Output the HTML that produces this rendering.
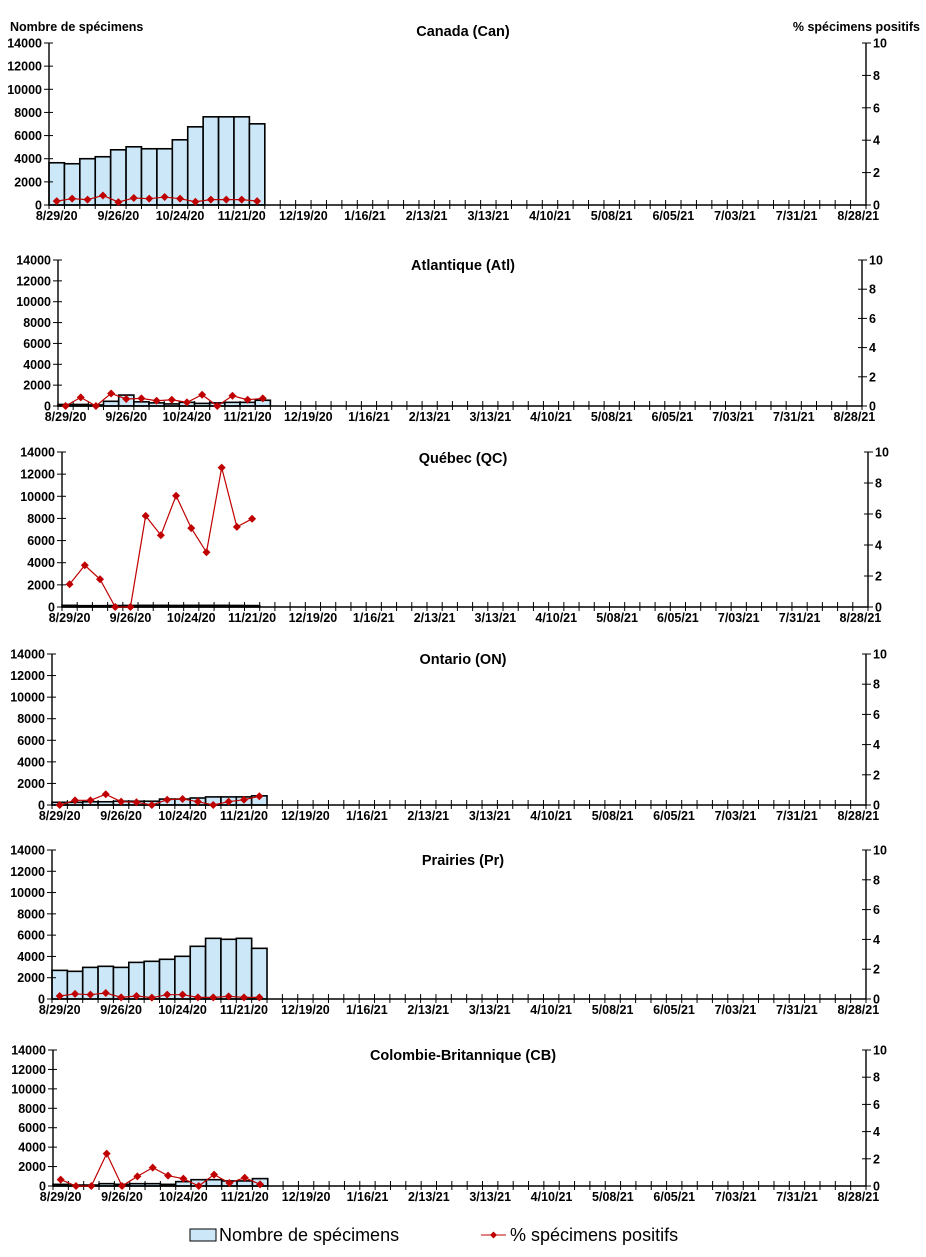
<!DOCTYPE html>
<html><head><meta charset="utf-8">
<style>
html,body{margin:0;padding:0;background:#fff;}
svg{display:block;font-family:"Liberation Sans",Arial,sans-serif;}
</style></head>
<body>
<svg id="chart" width="926" height="1257" viewBox="0 0 926 1257" xmlns="http://www.w3.org/2000/svg">
<text x="10" y="31" font-size="12.5" font-weight="bold">Nombre de spécimens</text>
<text x="920" y="31" font-size="12.5" font-weight="bold" text-anchor="end">% spécimens positifs</text>
<g>
<rect x="190" y="1229" width="26" height="12" fill="#cce8f8" stroke="#000" stroke-width="1"/>
<text x="219" y="1241" font-size="18">Nombre de spécimens</text>
<line x1="481" y1="1235" x2="506" y2="1235" stroke="#c00000" stroke-width="1"/>
<path d="M493.5 1231.5 L497 1235 L493.5 1238.5 L490 1235Z" fill="#c00000"/>
<text x="510" y="1241" font-size="18">% spécimens positifs</text>
</g>
</svg>
<script>
const weekLabels = ["8/29/20","9/26/20","10/24/20","11/21/20","12/19/20","1/16/21","2/13/21","3/13/21","4/10/21","5/08/21","6/05/21","7/03/21","7/31/21","8/28/21"];
const leftTicks = [0,2000,4000,6000,8000,10000,12000,14000];
const rightTicks = [0,2,4,6,8,10];
const regionNames = ["Canada (Can)","Atlantique (Atl)","Québec (QC)","Ontario (ON)","Prairies (Pr)","Colombie-Britannique (CB)"];
const canCounts = [3650,3565,4000,4170,4770,5030,4860,4860,5635,6756,7620,7620,7620,7015];
const canPct = [0.24,0.39,0.33,0.59,0.18,0.43,0.39,0.49,0.39,0.2,0.33,0.33,0.33,0.24];
const atlCounts = [150,150,100,450,1050,400,300,200,350,250,300,350,350,550];
const atlPct = [0,0.59,0,0.86,0.48,0.52,0.36,0.43,0.25,0.77,0,0.7,0.43,0.52];
const qcCounts = [150,120,120,130,140,150,150,140,150,150,150,140,130];
const qcPct = [1.47,2.69,1.79,0,0,5.88,4.63,7.18,5.09,3.53,8.99,5.17,5.69];
const onCounts = [250,250,300,300,350,350,350,550,550,650,750,750,750,850];
const onPct = [0,0.31,0.31,0.71,0.22,0.18,0,0.35,0.40,0.22,0,0.22,0.35,0.58];
const prCounts = [2690,2600,2970,3070,2970,3440,3540,3730,4010,4950,5700,5610,5700,4760];
const prPct = [0.2,0.34,0.29,0.4,0.11,0.2,0.09,0.29,0.29,0.11,0.11,0.18,0.11,0.11];
const cbCounts = [170,100,100,240,170,240,240,170,450,650,650,520,520,760];
const cbPct = [0.47,0,0,2.38,0,0.71,1.35,0.76,0.54,0,0.84,0.22,0.61,0.12];

const NS="http://www.w3.org/2000/svg";
const svg=document.getElementById('chart');
function mk(tag,attrs,parent){const e=document.createElementNS(NS,tag);for(const k in attrs)e.setAttribute(k,attrs[k]);(parent||svg).appendChild(e);return e;}
const layouts=[
 {l:49,r:866,t:43,b:205,ty:36},
 {l:58,r:862,t:260,b:406,ty:270},
 {l:62,r:868,t:452,b:607,ty:463},
 {l:52,r:866,t:654,b:805,ty:664},
 {l:52,r:866,t:850,b:999,ty:865},
 {l:53,r:866,t:1050,b:1186,ty:1060}
];
const countsAll=[canCounts,atlCounts,qcCounts,onCounts,prCounts,cbCounts];
const pctAll=[canPct,atlPct,qcPct,onPct,prPct,cbPct];
const NCAT=53;
layouts.forEach((L,pi)=>{
 const g=mk('g',{});
 
 
 const bw=(L.r-L.l)/NCAT;
 const xc=i=>L.l+(i+0.5)*bw;
 const yL=v=>L.b-(v/14000)*(L.b-L.t);
 const yR=v=>L.b-(v/10)*(L.b-L.t);
 const title=mk('text',{x:463,y:L.ty,'font-size':14.5,'font-weight':'bold','text-anchor':'middle'},g);
 title.textContent=regionNames[pi];
 
 
 countsAll[pi].forEach((v,i)=>{
  const r=mk('rect',{x:L.l+i*bw,y:yL(v),width:bw,height:L.b-yL(v),fill:'#cce8f8',stroke:'#000','stroke-width':1.6},g);
  
  
 });
 const ax=mk('path',{d:`M${L.l} ${L.t}V${L.b}H${L.r}V${L.t}`,fill:'none',stroke:'#000','stroke-width':1.4},g);
 
 
 leftTicks.forEach(v=>{
  mk('line',{x1:L.l-5,x2:L.l+4,y1:yL(v),y2:yL(v),stroke:'#000'},g);
  const t=mk('text',{x:L.l-7,y:yL(v)+4.5,'font-size':12.5,'font-weight':'bold','text-anchor':'end'},g);
  t.textContent=v;
  
  
 });
 rightTicks.forEach(v=>{
  mk('line',{x1:L.r-4,x2:L.r+5,y1:yR(v),y2:yR(v),stroke:'#000'},g);
  const t=mk('text',{x:L.r+7,y:yR(v)+4.5,'font-size':12.5,'font-weight':'bold'},g);
  t.textContent=v;
  
  
 });
 for(let i=0;i<=NCAT;i++){
  const x=L.l+i*bw;
  mk('line',{x1:x,x2:x,y1:L.b-5,y2:L.b+4,stroke:'#000'},g);
 }
 weekLabels.forEach((s,k)=>{
  const t=mk('text',{x:xc(k*4),y:L.b+15,'font-size':12.5,'font-weight':'bold','text-anchor':'middle'},g);
  t.textContent=s;
  
  
 });
 const pts=pctAll[pi].map((v,i)=>xc(i)+','+yR(v)).join(' ');
 const pl=mk('polyline',{points:pts,fill:'none',stroke:'#c00000','stroke-width':1.2},g);
 
 
 pctAll[pi].forEach((v,i)=>{
  const x=xc(i),y=yR(v);
  const m=mk('path',{d:`M${x} ${y-4}L${x+4} ${y}L${x} ${y+4}L${x-4} ${y}Z`,fill:'#c00000'},g);
  
  
 });
});
</script>
</body></html>
